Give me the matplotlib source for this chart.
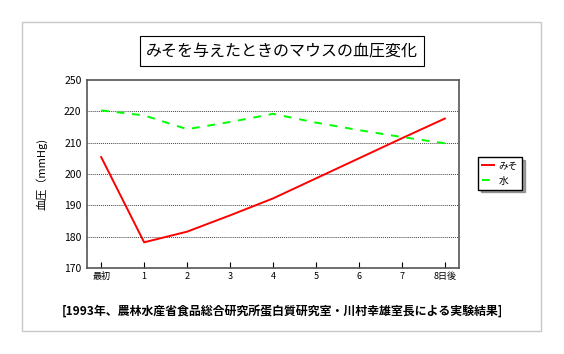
import matplotlib
matplotlib.use('Agg')
import matplotlib.pyplot as plt
from matplotlib.patches import Rectangle

plt.rcParams['font.family'] = ['Noto Sans CJK JP', 'DejaVu Sans']

# data
days = ['最初', '1', '2', '3', '4', '5', '6', '7', '8日後']
miso = [205.4, 178.2, 181.6, 186.8, 192.2, 198.6, 205.0, 211.4, 217.7]
water = [220.3, 218.7, 214.3, 216.6, 219.2, 216.4, 214.0, 211.8, 209.8]
yticks = [170, 180, 190, 200, 210, 220, 230]
ytick_labels = ['170', '180', '190', '200', '210', '220', '250']

fig = plt.figure(figsize=(5.64, 3.54), dpi=100)

# outer frame
fig.patches.append(Rectangle((22 / 564, 1 - 331 / 354), 519 / 564, 309 / 354,
                             transform=fig.transFigure, fill=False,
                             edgecolor='#c8c8c8', linewidth=1))

ax = fig.add_axes([87 / 564, 1 - 268 / 354, 372 / 564, 188 / 354])
x = list(range(len(days)))
ax.plot(x, miso, color='#ff0000', linewidth=1.4, label='みそ')
ax.plot(x, water, color='#00ff00', linewidth=1.4, linestyle=(0, (4, 4)), label='水')

ax.set_xlim(-0.33, 8.33)
ax.set_ylim(170, 230)
ax.set_yticks(yticks)
ax.set_yticklabels(ytick_labels)
ax.set_xticks(x)
ax.set_xticklabels(days)
ax.tick_params(axis='x', direction='in', length=4, labelsize=6.5, pad=3)
ax.tick_params(axis='y', length=0, labelsize=7.5, pad=4)
for v in yticks[1:-1]:
    ax.axhline(v, color='#444444', linewidth=0.7, linestyle=(0, (1, 1)), zorder=0)
for s in ax.spines.values():
    s.set_color('#555555')
    s.set_linewidth(1.2)

ax.set_ylabel('血圧（mmHg)', fontsize=8, labelpad=12)

leg = fig.legend(loc='upper left', bbox_to_anchor=(478 / 564, 1 - 157 / 354),
                 fancybox=False, shadow=True, edgecolor='black', fontsize=7,
                 handlelength=1.2, borderpad=0.4, labelspacing=0.5,
                 handletextpad=0.5, borderaxespad=0)
leg.get_frame().set_linewidth(1)

fig.text(282 / 564, 1 - 51 / 354, 'みそを与えたときのマウスの血圧変化', ha='center', va='center',
         fontsize=11.5,
         bbox=dict(boxstyle='square,pad=0.4', facecolor='white', edgecolor='black', linewidth=0.8))

fig.text(282 / 564, 1 - 311 / 354,
         '[1993年、農林水産省食品総合研究所蛋白質研究室・川村幸雄室長による実験結果]',
         ha='center', va='center', fontsize=8.6, fontweight='bold')

fig.savefig('out.png', dpi=100)
